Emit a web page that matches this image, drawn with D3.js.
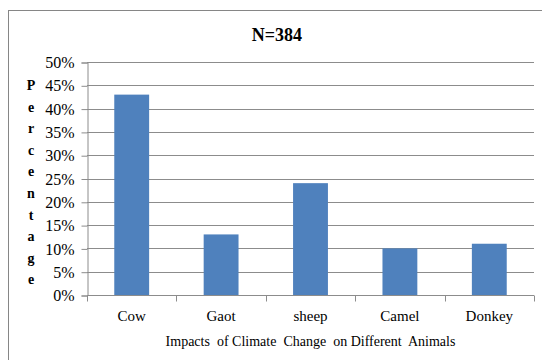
<!DOCTYPE html>
<html>
<head>
<meta charset="utf-8">
<script src="https://cdn.jsdelivr.net/npm/d3@7"></script>
<style>
  body { margin: 0; background: #fff; }
  svg { display: block; }
</style>
</head>
<body>
<div id="chart"></div>
<script>
const animals = ["Cow", "Gaot", "sheep", "Camel", "Donkey"];
const percents = [0.43, 0.13, 0.24, 0.10, 0.11];
const yTicks = [0, 0.05, 0.10, 0.15, 0.20, 0.25, 0.30, 0.35, 0.40, 0.45, 0.50];
const yLabelLetters = ["P", "e", "r", "c", "e", "n", "t", "a", "g", "e"];
const title = "N=384";
const xTitle = "Impacts  of Climate  Change  on Different  Animals";

const FONT = "'Liberation Serif', 'DejaVu Serif', serif";
const width = 542, height = 360;
const margin = { top: 62, right: 8, bottom: 65, left: 87 };

const svg = d3.select("#chart").append("svg")
  .attr("width", width)
  .attr("height", height)
  .attr("font-family", FONT);

// chart frame (cropped on right / bottom in the original)
svg.append("rect")
  .attr("x", 8.5).attr("y", 10.5)
  .attr("width", 560).attr("height", 400)
  .attr("fill", "none")
  .attr("stroke", "#868686");

const x = d3.scaleBand()
  .domain(animals)
  .range([margin.left, width - margin.right])
  .paddingInner(0.61)
  .paddingOuter(0.305);

const y = d3.scaleLinear()
  .domain([0, 0.5])
  .range([height - margin.bottom, margin.top]);

// gridlines
svg.append("g")
  .selectAll("line")
  .data(yTicks.slice(1))
  .join("line")
  .attr("x1", margin.left)
  .attr("x2", width - margin.right)
  .attr("y1", d => Math.round(y(d)) + 0.5)
  .attr("y2", d => Math.round(y(d)) + 0.5)
  .attr("stroke", "#8c8c8c");

// y axis
const yAxis = svg.append("g")
  .attr("transform", `translate(${margin.left + 0.5},0.5)`)
  .call(d3.axisLeft(y).tickValues(yTicks).tickFormat(d3.format(".0%")).tickSize(6).tickPadding(7))
  .attr("font-family", FONT)
  .attr("font-size", 16);
yAxis.select(".domain").attr("stroke", "#8c8c8c");
yAxis.selectAll(".tick line").attr("stroke", "#8c8c8c");
yAxis.selectAll(".tick text").attr("fill", "#000");

// bars
svg.append("g")
  .selectAll("rect")
  .data(animals)
  .join("rect")
  .attr("x", d => x(d))
  .attr("y", (d, i) => y(percents[i]))
  .attr("width", x.bandwidth())
  .attr("height", (d, i) => y(0) - y(percents[i]))
  .attr("fill", "#4f81bd");

// x axis with ticks at band boundaries
const xAxisG = svg.append("g")
  .attr("transform", `translate(0,${Math.round(y(0)) + 0.5})`);
xAxisG.append("line")
  .attr("x1", margin.left)
  .attr("x2", width - margin.right)
  .attr("stroke", "#8c8c8c");
const step = x.step();
xAxisG.selectAll("line.tk")
  .data(d3.range(animals.length + 1))
  .join("line")
  .attr("class", "tk")
  .attr("x1", i => Math.round(margin.left + i * step) + 0.5)
  .attr("x2", i => Math.round(margin.left + i * step) + 0.5)
  .attr("y1", 0).attr("y2", 6)
  .attr("stroke", "#8c8c8c");
xAxisG.selectAll("text")
  .data(animals)
  .join("text")
  .attr("x", d => x(d) + x.bandwidth() / 2)
  .attr("y", 25)
  .attr("text-anchor", "middle")
  .attr("font-size", 15)
  .text(d => d);

// x title
svg.append("text")
  .attr("x", (margin.left + width - margin.right) / 2)
  .attr("y", 346)
  .attr("text-anchor", "middle")
  .attr("font-size", 14)
  .style("white-space", "pre")
  .text(xTitle);

// chart title
svg.append("text")
  .attr("x", 277)
  .attr("y", 41)
  .attr("text-anchor", "middle")
  .attr("font-size", 18)
  .attr("font-weight", "bold")
  .text(title);

// stacked y label
svg.append("g")
  .selectAll("text")
  .data(yLabelLetters)
  .join("text")
  .attr("x", 31)
  .attr("y", (d, i) => 90 + i * 21.6)
  .attr("text-anchor", "middle")
  .attr("font-size", 14)
  .attr("font-weight", "bold")
  .text(d => d);
</script>
</body>
</html>
